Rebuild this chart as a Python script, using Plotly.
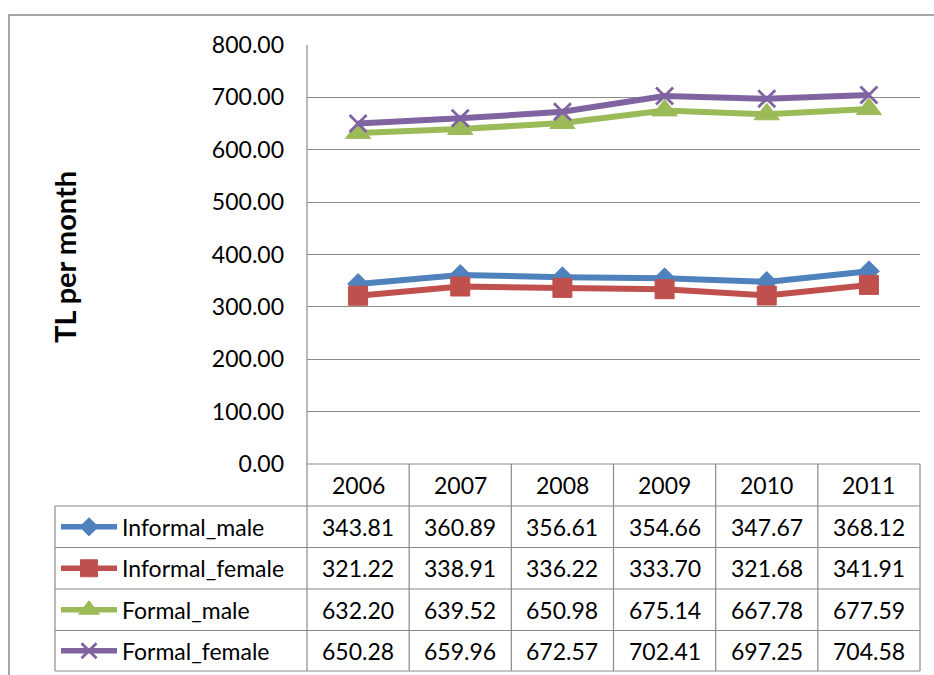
import plotly.graph_objects as go

# ---- data ----
years = ["2006", "2007", "2008", "2009", "2010", "2011"]
informal_male = [343.81, 360.89, 356.61, 354.66, 347.67, 368.12]
informal_female = [321.22, 338.91, 336.22, 333.70, 321.68, 341.91]
formal_male = [632.20, 639.52, 650.98, 675.14, 667.78, 677.59]
formal_female = [650.28, 659.96, 672.57, 702.41, 697.25, 704.58]

series_names = ["Informal_male", "Informal_female", "Formal_male", "Formal_female"]
series_values = [informal_male, informal_female, formal_male, formal_female]
y_ticks = [0, 100, 200, 300, 400, 500, 600, 700, 800]

# ---- styling ----
W, H = 934, 675
FONT = "Lato"
GRID = "#8a8a8a"
colors = ["#4F81BD", "#C0504D", "#9BBB59", "#8064A2"]
symbols = ["diamond", "square", "triangle-up", "x-thin"]
chart_sizes = [16, 19, 22, 17]
key_sizes = [14, 17, 18, 15]

# plot area in pixels
PL, PR, PT, PB = 307, 920, 45, 464
# table geometry in pixels
LEG_L = 55
row_edges = [506, 547.5, 589, 630.5, 671]
ncol = len(years)
col_w = (PR - PL) / ncol


def px(x):
    return x / W


def py(y):
    return 1 - y / H


def marker_line(sym, col):
    if sym == "x-thin":
        return dict(color=col, width=2.8)
    return dict(color=col, width=1)


fig = go.Figure()

# chart lines
for name, vals, col, sym, sz in zip(series_names, series_values, colors,
                                    symbols, chart_sizes):
    fig.add_trace(go.Scatter(
        x=list(range(ncol)), y=vals, mode="lines+markers", name=name,
        line=dict(color=col, width=6),
        marker=dict(symbol=sym, size=sz, color=col, line=marker_line(sym, col)),
        xaxis="x", yaxis="y", showlegend=False, hoverinfo="skip",
    ))

# legend keys inside the data table (pixel-space overlay axes)
for i, (col, sym, sz) in enumerate(zip(colors, symbols, key_sizes)):
    yc = (row_edges[i] + row_edges[i + 1]) / 2
    fig.add_trace(go.Scatter(
        x=[61, 117], y=[yc, yc], mode="lines",
        line=dict(color=col, width=5.5),
        xaxis="x2", yaxis="y2", showlegend=False, hoverinfo="skip",
    ))
    fig.add_trace(go.Scatter(
        x=[89], y=[yc], mode="markers",
        marker=dict(symbol=sym, size=sz, color=col, line=marker_line(sym, col)),
        xaxis="x2", yaxis="y2", showlegend=False, hoverinfo="skip",
    ))

shapes = []


def hline(x0, x1, y):
    shapes.append(dict(type="line", xref="paper", yref="paper",
                       x0=px(x0), x1=px(x1), y0=py(y), y1=py(y),
                       line=dict(color=GRID, width=1.2)))


def vline(x, y0, y1):
    shapes.append(dict(type="line", xref="paper", yref="paper",
                       x0=px(x), x1=px(x), y0=py(y0), y1=py(y1),
                       line=dict(color=GRID, width=1.2)))


# outer chart frame
shapes.append(dict(type="rect", xref="paper", yref="paper",
                   x0=px(9), x1=px(W + 10), y0=py(H + 10), y1=py(15),
                   line=dict(color=GRID, width=1.5)))

# data table grid
hline(PL, PR, PB)
for ye in row_edges:
    hline(LEG_L, PR, ye)
vline(LEG_L, row_edges[0], row_edges[-1])
vline(PL, PT, row_edges[-1])
for c in range(1, ncol + 1):
    vline(PL + c * col_w, PB, row_edges[-1])

annotations = []
# header row with years
for c, yr in enumerate(years):
    annotations.append(dict(
        x=px(PL + (c + 0.5) * col_w), y=py((PB + row_edges[0]) / 2),
        xref="paper", yref="paper", text=yr, showarrow=False,
        font=dict(family=FONT, size=23, color="#000000"),
        xanchor="center", yanchor="middle"))

# values and series labels
for i, (name, vals) in enumerate(zip(series_names, series_values)):
    yc = (row_edges[i] + row_edges[i + 1]) / 2
    annotations.append(dict(
        x=px(120), y=py(yc), xref="paper", yref="paper", text=name,
        showarrow=False, font=dict(family=FONT, size=23, color="#000000"),
        xanchor="left", yanchor="middle"))
    for c, v in enumerate(vals):
        annotations.append(dict(
            x=px(PL + (c + 0.5) * col_w), y=py(yc),
            xref="paper", yref="paper", text=f"{v:.2f}", showarrow=False,
            font=dict(family=FONT, size=23, color="#000000"),
            xanchor="center", yanchor="middle"))

# y-axis title
annotations.append(dict(
    x=px(64), y=py(257), xref="paper", yref="paper",
    text="<b>TL per month</b>", textangle=-90, showarrow=False,
    font=dict(family=FONT, size=29, color="#000000"),
    xanchor="center", yanchor="middle"))

fig.update_layout(
    width=W, height=H,
    margin=dict(l=0, r=0, t=0, b=0, autoexpand=False),
    paper_bgcolor="white",
    plot_bgcolor="rgba(0,0,0,0)",
    showlegend=False,
    xaxis=dict(domain=[px(PL), px(PR)], range=[-0.5, ncol - 0.5],
               showgrid=False, zeroline=False, showticklabels=False,
               showline=False, fixedrange=True, automargin=False),
    yaxis=dict(domain=[py(PB), py(PT)], range=[0, 800],
               tickvals=y_ticks, tickformat=".2f",
               showgrid=True, gridcolor=GRID, gridwidth=1.2,
               zeroline=False, showline=False, ticks="",
               ticklabelstandoff=22, automargin=False,
               tickfont=dict(family=FONT, size=23, color="#000000"),
               fixedrange=True),
    xaxis2=dict(domain=[0, 1], range=[0, W], anchor="y2", visible=False,
                fixedrange=True, automargin=False),
    yaxis2=dict(domain=[0, 1], range=[H, 0], anchor="x2", visible=False,
                fixedrange=True, automargin=False),
    shapes=shapes,
    annotations=annotations,
)

fig.write_html("out.html")
